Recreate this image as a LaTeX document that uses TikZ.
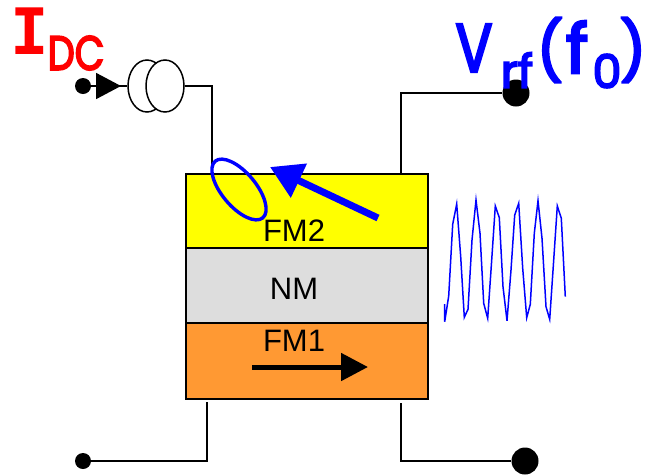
\documentclass[tikz,border=0pt]{standalone}
\usepackage{xcolor}
\usepackage{fontspec}
\usetikzlibrary{arrows.meta,shapes.geometric}
\setmainfont{Liberation Sans}
\newfontfamily\markfont[FakeBold=4]{Poppins}
\newfontfamily\serifmark{DejaVu Sans Mono}
\definecolor{LayerYellow}{RGB}{255,255,0}
\definecolor{LayerGray}{RGB}{221,221,221}
\definecolor{LayerOrange}{RGB}{255,153,51}
\definecolor{WaveBlue}{RGB}{0,0,255}
\definecolor{CurrentRed}{RGB}{255,0,0}
\tikzset{
    layer/.style={draw=black,line width=1.4pt,minimum width=242pt,inner sep=0pt},
    layername/.style={font=\fontsize{31}{31}\selectfont,inner sep=0pt},
    wire/.style={draw=black,line width=1.7pt},
    smalldot/.style={circle,fill=black,inner sep=0pt,minimum size=16pt},
    bigdot/.style={circle,fill=black,inner sep=0pt,minimum size=27pt},
    sourcering/.style={ellipse,draw=black,line width=1.5pt,fill=white,inner sep=0pt,minimum width=38pt,minimum height=52pt},
    idclabel/.style={text=CurrentRed,inner sep=0pt},
    vrflabel/.style={text=WaveBlue,inner sep=0pt}
}
\begin{document}
\begin{tikzpicture}[x=1pt,y=-1pt]
    \useasboundingbox (0,0) rectangle (647,475);
    \node[layer,fill=LayerYellow,minimum height=74pt] (fm2) at (307,211) {};
    \node[layer,fill=LayerGray,minimum height=75pt] (nm) at (307,285.5) {};
    \node[layer,fill=LayerOrange,minimum height=76pt] (fm1) at (307,361) {};
    \node[layername] (fm2name) at (294,231) {FM2};
    \node[layername] (nmname) at (294,289) {NM};
    \node[layername] (fm1name) at (294,341) {FM1};

    \node[smalldot] (idcdot) at (83,86) {};
    \coordinate (idctip) at (121,86);
    \node[sourcering] (srcleft) at (147,86) {};
    \node[sourcering] (srcright) at (165,86) {};
    \coordinate (coilwire) at (212,174);
    \draw[wire] (idcdot) -- (srcleft);
    \draw[wire,-{Triangle[length=25pt,width=26pt]}] (idcdot) -- (idctip);
    \draw[wire] (srcright) -| (coilwire);

    \node[bigdot] (vrfdot) at (516,93) {};
    \coordinate (topwire) at (401,174);
    \draw[wire] (vrfdot) -| (topwire);

    \node[smalldot] (gnddot) at (83,461) {};
    \coordinate (gndwire) at (207,402);
    \draw[wire] (gnddot) -| (gndwire);
    \node[bigdot] (outdot) at (525,461) {};
    \coordinate (outwire) at (401,403);
    \draw[wire] (outdot) -| (outwire);

    \node[draw=WaveBlue,line width=3.4pt,ellipse,inner sep=0pt,minimum width=74pt,minimum height=34pt,rotate=-50] (coil) at (239,189.5) {};
    \coordinate (freetail) at (378,218);
    \coordinate (freehead) at (270,167);
    \draw[WaveBlue,line width=7pt,-{Triangle[length=32pt,width=36pt]}] (freetail) -- (freehead);
    \coordinate (fixedtail) at (252,367);
    \coordinate (fixedhead) at (368,367);
    \draw[black,line width=5pt,-{Triangle[length=27pt,width=27pt]}] (fixedtail) -- (fixedhead);

    \draw[WaveBlue,line width=1.5pt] plot coordinates {(444.7,304) (444.7,321.7) (448.7,296) (452.7,224.3) (456.7,204) (460.7,256.7) (464.3,317.3) (468,309.3) (472,240) (476,200) (480,233.3) (483.7,303.3) (487.7,318.3) (491.7,260) (495.3,206) (499.3,217.7) (503,286.7) (507,320.7) (511,270) (514.7,215) (518.7,203.3) (522.7,268.3) (526.7,317.7) (530.3,304.3) (534.3,233.3) (538,200.7) (542,238.3) (546,306.7) (549.7,319.3) (553.7,260) (557.3,206) (561.3,218.3) (565.3,296.7)};

    \node[idclabel,font=\serifmark\bfseries\fontsize{64}{64}\selectfont] (idcmain) at (30,31) {I};
    \node[idclabel,font=\markfont\fontsize{48}{48}\selectfont,xscale=.8] (idcsub) at (76,53) {DC};
    \node[vrflabel,font=\markfont\fontsize{68}{68}\selectfont,xscale=.8] (vrfmain) at (474,48) {V};
    \node[vrflabel,font=\markfont\fontsize{46}{46}\selectfont] (vrfsub) at (517,70) {rf};
    \node[vrflabel,font=\markfont\fontsize{58}{58}\selectfont] (vrfopen) at (550,50) {(};
    \node[vrflabel,font=\markfont\fontsize{68}{68}\selectfont] (vrffreq) at (577,47) {f};
    \node[vrflabel,font=\markfont\fontsize{46}{46}\selectfont] (vrfzero) at (607,71) {0};
    \node[vrflabel,font=\markfont\fontsize{58}{58}\selectfont] (vrfclose) at (633,50) {)};
\end{tikzpicture}
\end{document}
